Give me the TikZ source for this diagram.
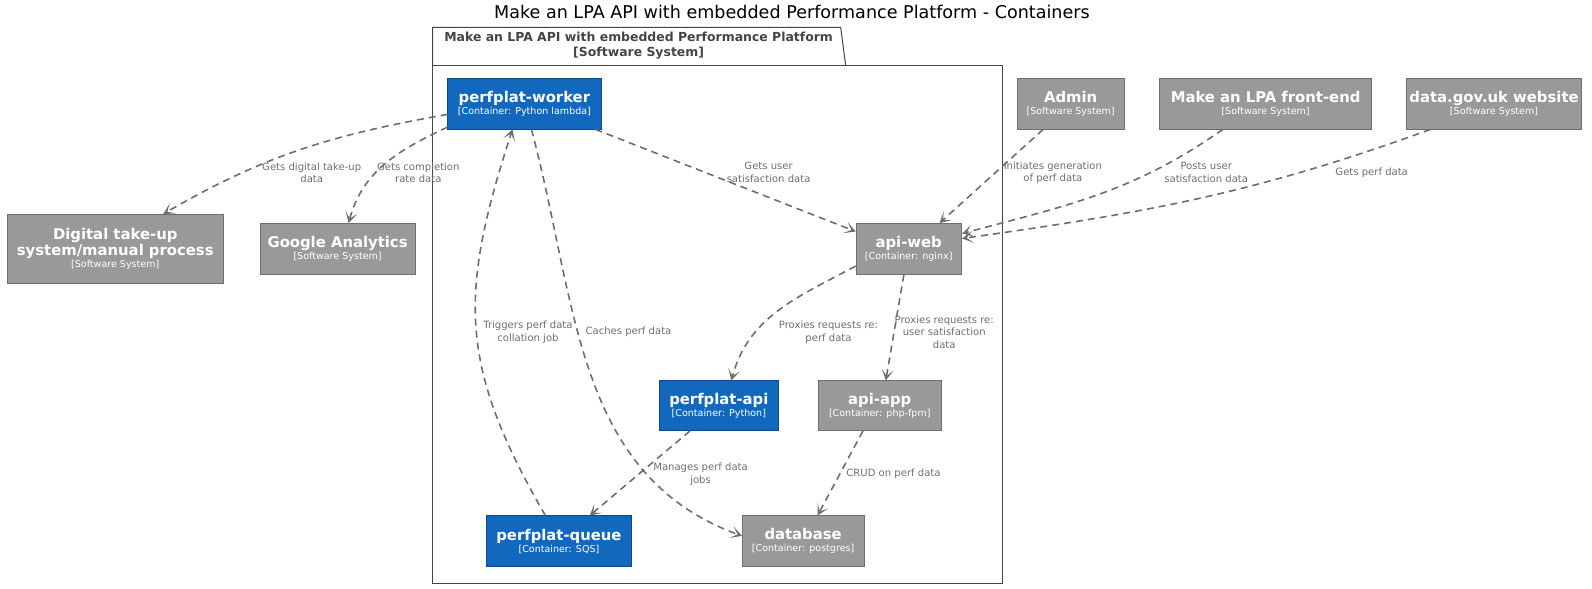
\documentclass[tikz,border=0pt]{standalone}
\usepackage{fontspec}
\setmainfont{DejaVu Sans}
\usetikzlibrary{positioning, arrows.meta}

\definecolor{c4blue}{HTML}{1168BD}
\definecolor{c4blueline}{HTML}{0B4884}
\definecolor{c4grey}{HTML}{999999}
\definecolor{c4greyline}{HTML}{6F6F6F}
\definecolor{relgrey}{HTML}{6E6E6E}
\definecolor{framegrey}{HTML}{444444}

\newcommand{\boxname}{\fontsize{14.6}{17}\selectfont\bfseries}
\newcommand{\boxkind}{\fontsize{9.4}{11}\selectfont}

\tikzset{
  container/.style={draw=c4blueline, fill=c4blue, text=white, align=center, line width=0.8pt, inner sep=0pt},
  extsystem/.style={draw=c4greyline, fill=c4grey, text=white, align=center, line width=0.8pt, inner sep=0pt},
  rel/.style={draw=relgrey, line width=1.6pt, dash pattern=on 7pt off 5pt, -{Stealth[length=11pt,width=12pt,inset=6.5pt]}},
  rellabel/.style={text=relgrey, align=center, font=\fontsize{9.9}{12.5}\selectfont, inner sep=1pt},
}

\begin{document}
\begin{tikzpicture}[x=1pt, y=1pt, scale=1.0153, transform shape]
    \useasboundingbox (0,0) rectangle (1568,-580.1);

    \node[font=\fontsize{17.3}{20}\selectfont] (title) at (780,-12) {Make an LPA API with embedded Performance Platform - Containers};

    % system boundary
    \draw[framegrey, line width=1pt] (426,-65) -- (426,-27) -- (828,-27) -- (833,-65);
    \draw[framegrey, line width=1pt] (426,-65) rectangle (987,-575);
    \node[text=framegrey, align=center, font=\fontsize{12.25}{15}\selectfont\bfseries] (boundary) at (629,-45) {Make an LPA API with embedded Performance Platform\\{[Software System]}};

    % containers
    \node[container, minimum width=151pt, minimum height=50pt] (worker) at (516.5,-102) {{\boxname perfplat-worker}\\{\boxkind [Container: Python lambda]}};
    \node[extsystem, minimum width=104pt, minimum height=50pt] (apiweb) at (895,-245) {{\boxname api-web}\\{\boxkind [Container: nginx]}};
    \node[container, minimum width=118pt, minimum height=49pt] (perfapi) at (708,-399.5) {{\boxname perfplat-api}\\{\boxkind [Container: Python]}};
    \node[extsystem, minimum width=121pt, minimum height=49pt] (apiapp) at (866.5,-399.5) {{\boxname api-app}\\{\boxkind [Container: php-fpm]}};
    \node[container, minimum width=143pt, minimum height=50pt] (queue) at (550.5,-533) {{\boxname perfplat-queue}\\{\boxkind [Container: SQS]}};
    \node[extsystem, minimum width=120pt, minimum height=50pt] (database) at (791,-533) {{\boxname database}\\{\boxkind [Container: postgres]}};

    % software systems
    \node[extsystem, minimum width=105pt, minimum height=50pt] (admin) at (1054.5,-102) {{\boxname Admin}\\{\boxkind [Software System]}};
    \node[extsystem, minimum width=209pt, minimum height=50pt] (frontend) at (1246.5,-102) {{\boxname Make an LPA front-end}\\{\boxkind [Software System]}};
    \node[extsystem, minimum width=173pt, minimum height=50pt] (datagov) at (1471.5,-102) {{\boxname data.gov.uk website}\\{\boxkind [Software System]}};
    \node[extsystem, minimum width=213pt, minimum height=68pt] (digital) at (113.5,-245) {{\boxname Digital take-up}\\{\boxname system/manual process}\\{\boxkind [Software System]}};
    \node[extsystem, minimum width=153pt, minimum height=50pt] (google) at (332.5,-245) {{\boxname Google Analytics}\\{\boxkind [Software System]}};

    \draw[rel] (worker.188) to[out=190, in=30] (digital.36);
    \draw[rel] (worker.197) to[out=205, in=75] (google.67);
    \draw[rel] (worker.-20) -- (apiweb.162);
    \draw[rel] (worker.-75) to[out=-75, in=160] (database.175);
    \draw[rel] (queue.118) to[out=120, in=-108, looseness=1.15] (worker.245);
    \draw[rel] (apiweb.198) to[out=208, in=75] (perfapi.64);
    \draw[rel] (apiweb.259) -- (apiapp.77);
    \draw[rel] (perfapi.221) -- (queue.40);
    \draw[rel] (apiapp.236) -- (database.61);
    \draw[rel] (admin.223) -- (apiweb.40);
    \draw[rel] (frontend.211) to[out=215, in=15] (apiweb.16);
    \draw[rel] (datagov.202) to[out=200, in=8] (apiweb.11);

    \node[rellabel] (l1) at (307,-170) {Gets digital take-up\\data};
    \node[rellabel] (l2) at (412,-170) {Gets completion\\rate data};
    \node[rellabel] (l3) at (757,-170) {Gets user\\satisfaction data};
    \node[rellabel] (l4) at (619,-327) {Caches perf data};
    \node[rellabel] (l5) at (520,-327) {Triggers perf data\\collation job};
    \node[rellabel] (l6) at (816,-327) {Proxies requests re:\\perf data};
    \node[rellabel] (l7) at (930,-327) {Proxies requests re:\\user satisfaction\\data};
    \node[rellabel] (l8) at (690,-467) {Manages perf data\\jobs};
    \node[rellabel] (l9) at (880,-467) {CRUD on perf data};
    \node[rellabel] (l10) at (1037,-170) {Initiates generation\\of perf data};
    \node[rellabel] (l11) at (1188,-170) {Posts user\\satisfaction data};
    \node[rellabel] (l12) at (1351,-170) {Gets perf data};
\end{tikzpicture}
\end{document}
